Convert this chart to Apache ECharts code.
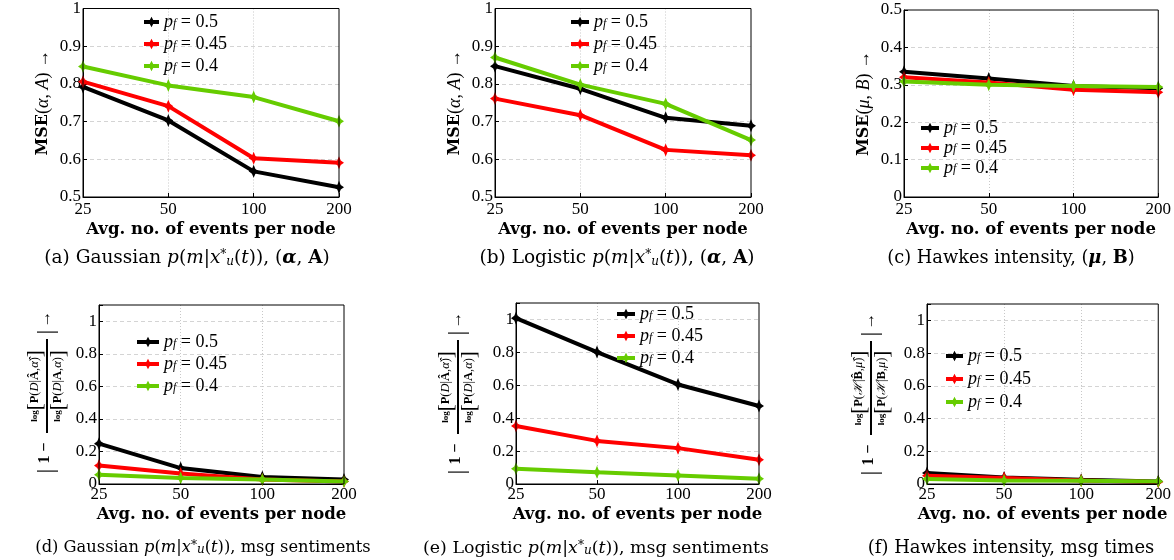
<!DOCTYPE html>
<html>
<head>
<meta charset="utf-8">
<script src="https://cdn.jsdelivr.net/npm/echarts@6/dist/echarts.min.js"></script>
<style>
  html, body { margin: 0; padding: 0; background: #fff; }
  #chart { width: 1174px; height: 560px; }
</style>
</head>
<body>
<div id="chart"></div>
<script>
// x categories (log-spaced: avg. no. of events per node)
const xLabels = ['25', '50', '100', '200'];
const pfLabels = ['0.5', '0.45', '0.4'];
const lineColors = ['#000000', '#ff0000', '#66cc00'];

// rows: p_f = 0.5, 0.45, 0.4
const mseGaussian = [
  [0.792, 0.703, 0.568, 0.526],
  [0.806, 0.741, 0.603, 0.591],
  [0.846, 0.796, 0.765, 0.701]
];
const mseLogistic = [
  [0.847, 0.787, 0.710, 0.689],
  [0.761, 0.717, 0.625, 0.611],
  [0.870, 0.798, 0.747, 0.651]
];
const mseHawkes = [
  [0.335, 0.317, 0.297, 0.291],
  [0.320, 0.306, 0.287, 0.280],
  [0.309, 0.300, 0.297, 0.294]
];
const llGaussian = [
  [0.248, 0.098, 0.043, 0.027],
  [0.113, 0.064, 0.027, 0.016],
  [0.057, 0.037, 0.027, 0.016]
];
const llLogistic = [
  [1.008, 0.802, 0.605, 0.474],
  [0.353, 0.262, 0.218, 0.147],
  [0.093, 0.071, 0.052, 0.032]
];
const llHawkes = [
  [0.067, 0.040, 0.026, 0.016],
  [0.050, 0.036, 0.022, 0.012],
  [0.030, 0.022, 0.020, 0.016]
];

const SERIF = '"Liberation Serif", "DejaVu Serif", serif';
const DSERIF = '"DejaVu Serif", serif';
const names = pfLabels.map(v => 'p_f = ' + v);
const star = 'path://M0,-10 L3.5,-3.5 L10,0 L3.5,3.5 L0,10 L-3.5,3.5 L-10,0 L-3.5,-3.5 Z';

const panels = [
  { data: mseGaussian, grid: { left: 83, top: 6, width: 256, height: 191 }, y: [0.5, 1, 0.1],
    yName: ['α', 'A'], legend: { left: 142, top: 13, w: 15, gap: 4, lh: 16 } },
  { data: mseLogistic, grid: { left: 495, top: 6, width: 256, height: 191 }, y: [0.5, 1, 0.1],
    yName: ['α', 'A'], legend: { left: 569, top: 13, w: 18, gap: 4, lh: 16 } },
  { data: mseHawkes, grid: { left: 904, top: 10, width: 257, height: 187 }, y: [0, 0.5, 0.1],
    yName: ['μ', 'B'], legend: { left: 919, top: 119, w: 18, gap: 2, lh: 14 } },
  { data: llGaussian, grid: { left: 99, top: 305, width: 245, height: 179 }, y: [0, 1.1, 0.2],
    legend: { left: 135, top: 333, w: 22, gap: 4, lh: 16 } },
  { data: llLogistic, grid: { left: 516, top: 303, width: 243, height: 181 }, y: [0, 1.1, 0.2],
    legend: { left: 615, top: 305, w: 18, gap: 4, lh: 16 } },
  { data: llHawkes, grid: { left: 927, top: 304, width: 241, height: 180 }, y: [0, 1.1, 0.2],
    legend: { left: 944, top: 347, w: 17, gap: 5, lh: 16 } }
];

const grid = [], xAxis = [], yAxis = [], series = [], legend = [];

panels.forEach((p, k) => {
  grid.push(Object.assign({ show: true, borderColor: '#000', borderWidth: 1, containLabel: false, z: 5 }, p.grid));
  xAxis.push({
    type: 'category', gridIndex: k, data: xLabels, boundaryGap: false,
    axisLine: { lineStyle: { color: '#000', width: 1 } },
    axisTick: { inside: true, length: 4, lineStyle: { color: '#000' } },
    axisLabel: { color: '#000', fontFamily: SERIF, fontSize: 17, margin: k < 3 ? 4 : 2 },
    splitLine: { show: true, showMinLine: false, showMaxLine: false,
      lineStyle: { color: '#c8c8c8', type: [1, 2] } },
    name: 'Avg. no. of events per node', nameLocation: 'middle', nameGap: k < 3 ? 24 : 22,
    nameTextStyle: { color: '#000', fontFamily: DSERIF, fontWeight: 'bold', fontSize: 16.5 }
  });
  const ya = {
    type: 'value', gridIndex: k, min: p.y[0], max: p.y[1], interval: p.y[2],
    axisLine: { show: true, lineStyle: { color: '#000', width: 1 } },
    axisTick: { show: true, inside: true, length: 4, lineStyle: { color: '#000' } },
    axisLabel: {
      color: '#000', fontFamily: SERIF, fontSize: 17, margin: 2,
      formatter: v => (v > 1.05 ? '' : String(+v.toFixed(2)))
    },
    splitLine: { show: true, showMinLine: false, showMaxLine: false,
      lineStyle: { color: '#d4d4d4', type: [4, 3] } }
  };
  if (p.yName) {
    ya.name = '{b|MSE}{r|(}{i|' + p.yName[0] + '}{r|, }{i|' + p.yName[1] + '}{r|) →}';
    ya.nameLocation = 'middle';
    ya.nameRotate = 90;
    ya.nameGap = 31;
    ya.nameTextStyle = {
      rich: {
        b: { fontFamily: DSERIF, fontWeight: 'bold', fontSize: 16, color: '#000' },
        r: { fontFamily: SERIF, fontSize: 18, color: '#000' },
        i: { fontFamily: SERIF, fontStyle: 'italic', fontSize: 18, color: '#000' }
      }
    };
  }
  yAxis.push(ya);

  p.data.forEach((vals, i) => {
    series.push({
      name: names[i], type: 'line', xAxisIndex: k, yAxisIndex: k, data: vals,
      symbol: star, symbolSize: [10, 13], showAllSymbol: true,
      lineStyle: { width: 4, color: lineColors[i] },
      itemStyle: { color: lineColors[i] },
      z: 2 + i, animation: false
    });
  });

  const lh = p.legend.lh;
  legend.push({
    left: p.legend.left, top: p.legend.top, orient: 'vertical',
    itemWidth: p.legend.w, itemHeight: 13, itemGap: p.legend.gap,
    padding: 0, data: names, selectedMode: false,
    lineStyle: { width: 4 },
    formatter: n => '{p|p}{f|f}{t| = ' + n.split('= ')[1] + '}',
    textStyle: {
      rich: {
        p: { fontFamily: SERIF, fontStyle: 'italic', fontSize: 18, color: '#000', lineHeight: lh },
        f: { fontFamily: SERIF, fontStyle: 'italic', fontSize: 12, color: '#000', verticalAlign: 'bottom', lineHeight: 12 },
        t: { fontFamily: SERIF, fontSize: 18, color: '#000', lineHeight: lh }
      }
    }
  });
});

// captions under each panel
function capRich(cs) {
  return {
    r: { fontFamily: DSERIF, fontSize: cs, color: '#000' },
    i: { fontFamily: DSERIF, fontSize: cs, fontStyle: 'italic', color: '#000' },
    sup: { fontFamily: DSERIF, fontSize: 12, fontStyle: 'italic', color: '#000', verticalAlign: 'top' },
    sub: { fontFamily: DSERIF, fontSize: 12, fontStyle: 'italic', color: '#000', verticalAlign: 'bottom' },
    bi: { fontFamily: DSERIF, fontSize: cs, fontStyle: 'italic', fontWeight: 'bold', color: '#000' },
    b: { fontFamily: DSERIF, fontSize: cs, fontWeight: 'bold', color: '#000' }
  };
}
const pm = '{i|p}{r|(}{i|m}{r||}{i|x}{sup|*}{sub|u}{r|(}{i|t}{r|))}';
const captions = [
  { x: 187, y: 258, cs: 18.5, text: '{r|(a) Gaussian }' + pm + '{r|, (}{bi|α}{r|, }{b|A}{r|)}' },
  { x: 617, y: 258, cs: 18.5, text: '{r|(b) Logistic }' + pm + '{r|, (}{bi|α}{r|, }{b|A}{r|)}' },
  { x: 1011, y: 258, cs: 17.8, text: '{r|(c) Hawkes intensity, (}{bi|μ}{r|, }{b|B}{r|)}' },
  { x: 203, y: 548, cs: 16.3, text: '{r|(d) Gaussian }' + pm + '{r|, msg sentiments}' },
  { x: 596, y: 548, cs: 17.4, text: '{r|(e) Logistic }' + pm + '{r|, msg sentiments}' },
  { x: 1011, y: 548, cs: 18, text: '{r|(f) Hawkes intensity, msg times}' }
];

const fracRich = {
  l: { fontFamily: SERIF, fontSize: 9, fontWeight: 'bold', color: '#000' },
  br: { fontFamily: SERIF, fontSize: 21, color: '#000' },
  t: { fontFamily: SERIF, fontSize: 12.5, color: '#000' },
  tb: { fontFamily: SERIF, fontSize: 12.5, fontWeight: 'bold', color: '#000' },
  ti: { fontFamily: SERIF, fontSize: 12.5, fontStyle: 'italic', color: '#000' }
};
function fracLabel(cx, cy, num, den) {
  const txt = (text, x, y, extra) => ({
    type: 'text',
    style: Object.assign({ text, x, y, align: 'center', verticalAlign: 'middle',
      textAlign: 'center', textVerticalAlign: 'middle', rich: fracRich }, extra || {})
  });
  return {
    type: 'group', x: cx, y: cy, rotation: Math.PI / 2, silent: true,
    children: [
      txt('|', -85, 0, { font: '24px ' + SERIF, fill: '#000' }),
      txt('1 −', -67, -2, { font: 'bold 16px ' + SERIF, fill: '#000' }),
      { type: 'line', shape: { x1: -47, y1: 0, x2: 47, y2: 0 }, style: { stroke: '#000', lineWidth: 2 } },
      txt(num, 0, -12),
      txt(den, 0, 11),
      txt('|', 54, 0, { font: '24px ' + SERIF, fill: '#000' }),
      txt('→', 67, -1, { font: '17px ' + SERIF, fill: '#000' })
    ]
  };
}

const graphic = captions.map(c => ({
  type: 'text', x: c.x, y: c.y, silent: true,
  style: { text: c.text, align: 'center', verticalAlign: 'middle', textAlign: 'center',
    textVerticalAlign: 'middle', rich: capRich(c.cs) }
}));
graphic.push(fracLabel(47, 386,
  '{l|log}{br|[}{tb|P}{t|(}{ti|D}{t||}{tb|Â}{t|,}{ti|α̂}{t|)}{br|]}',
  '{l|log}{br|[}{tb|P}{t|(}{ti|D}{t||}{tb|A}{t|,}{ti|α}{t|)}{br|]}'));
graphic.push(fracLabel(458, 387,
  '{l|log}{br|[}{tb|P}{t|(}{ti|D}{t||}{tb|Â}{t|,}{ti|α̂}{t|)}{br|]}',
  '{l|log}{br|[}{tb|P}{t|(}{ti|D}{t||}{tb|A}{t|,}{ti|α}{t|)}{br|]}'));
graphic.push(fracLabel(871, 388,
  '{l|log}{br|[}{tb|P}{t|(}{ti|ℋ}{t||}{tb|B̂}{t|,}{ti|μ̂}{t|)}{br|]}',
  '{l|log}{br|[}{tb|P}{t|(}{ti|ℋ}{t||}{tb|B}{t|,}{ti|μ}{t|)}{br|]}'));

const chart = echarts.init(document.getElementById('chart'));
chart.setOption({
  backgroundColor: '#fff',
  animation: false,
  grid, xAxis, yAxis, series, legend, graphic
});
</script>
</body>
</html>
